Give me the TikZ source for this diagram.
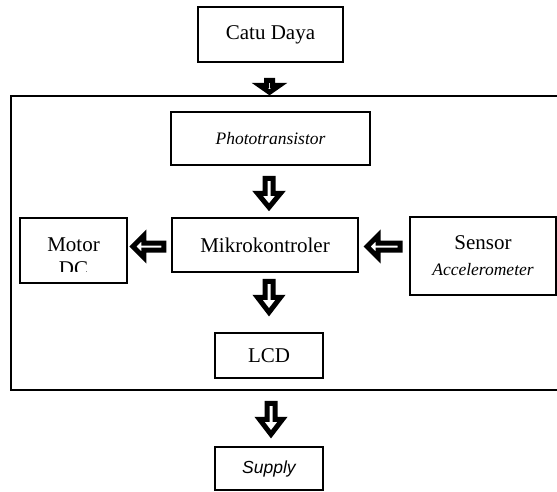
\documentclass[tikz,border=0pt]{standalone}
\usepackage{fontspec}
\setmainfont{Liberation Serif}
\newfontfamily\sansfam{Liberation Sans}
\usetikzlibrary{calc}
\tikzset{
  rmfont/.style={font=\fontsize{21}{25}\selectfont},
  itfont/.style={font=\fontsize{17.5}{21}\selectfont\itshape},
  box/.style={draw, line width=1.6pt, fill=white, inner sep=0pt, rmfont},
  itbox/.style={box, itfont},
  txt/.style={inner sep=0pt, rmfont},
  ittxt/.style={inner sep=0pt, itfont},
  blk/.style={draw, fill=white, line width=5pt, line join=miter},
  pics/downblk/.style args={#1/#2/#3/#4}{code={
    \draw[blk] (-#3,0) -- (#3,0) -- (#3,#1-#2) -- (#4,#1-#2) -- (0,#1) -- (-#4,#1-#2) -- (-#3,#1-#2) -- cycle;}},
  pics/leftblk/.style args={#1/#2/#3/#4}{code={
    \draw[blk] (0,0) -- (#2,-#4) -- (#2,-#3) -- (#1,-#3) -- (#1,#3) -- (#2,#3) -- (#2,#4) -- cycle;}}
}
\begin{document}
\begin{tikzpicture}[x=1pt,y=-1pt]
\clip (0,0) rectangle (557,492);
% outer frame
\draw[line width=1.6pt] (11,96) rectangle (620,390);
% boxes
\node[box, minimum width=145pt, minimum height=55pt] (cd) at (270.5,34.5) {Catu Daya};
\node[itbox, minimum width=199pt, minimum height=53pt] (ph) at (270.5,138.5) {Phototransistor};
\node[box, minimum width=186pt, minimum height=54pt] (mk) at (265,245) {Mikrokontroler};
\node[box, minimum width=107pt, minimum height=65pt] (mo) at (73.5,250.5) {};
\begin{scope}
  \clip ($(mo.north west)+(1,1)$) rectangle ($(mo.south east)+(-1,-12)$);
  \node[txt, anchor=base] (mo1) at ($(mo.north)+(0,34)$) {Motor};
  \node[txt, anchor=base] (mo2) at ($(mo.north)+(0,58)$) {DC};
\end{scope}
\node[box, minimum width=146pt, minimum height=78pt] (se) at (483,256) {};
\node[txt, anchor=base] (se1) at ($(se.north)+(0,33)$) {Sensor};
\node[ittxt, anchor=base] (se2) at ($(se.north)+(0,59)$) {Accelerometer};
\node[box, minimum width=108pt, minimum height=45pt] (lcd) at (269,355.5) {LCD};
\node[box, font=\fontsize{17.5}{21}\selectfont\sansfam\itshape, minimum width=108pt, minimum height=43pt] (su) at (269,468.5) {Supply};
% block arrows
\pic at ($(cd.south)+(-1,17.5)$) {downblk=12/7/3/10};
\pic at ($(ph.south)+(-1.5,12.5)$) {downblk=29/14/4/11.5};
\pic at ($(mk.south)+(4,8.5)$) {downblk=31/15/4/11.5};
\pic at ($(lcd.south)+(2,24.5)$) {downblk=31/15/4/11.5};
\pic at ($(mo.east)+(5,-4)$) {leftblk=31/11/3.5/11};
\pic at ($(se.west)+(-42,-9.5)$) {leftblk=33/11/3.5/11};
\end{tikzpicture}
\end{document}
